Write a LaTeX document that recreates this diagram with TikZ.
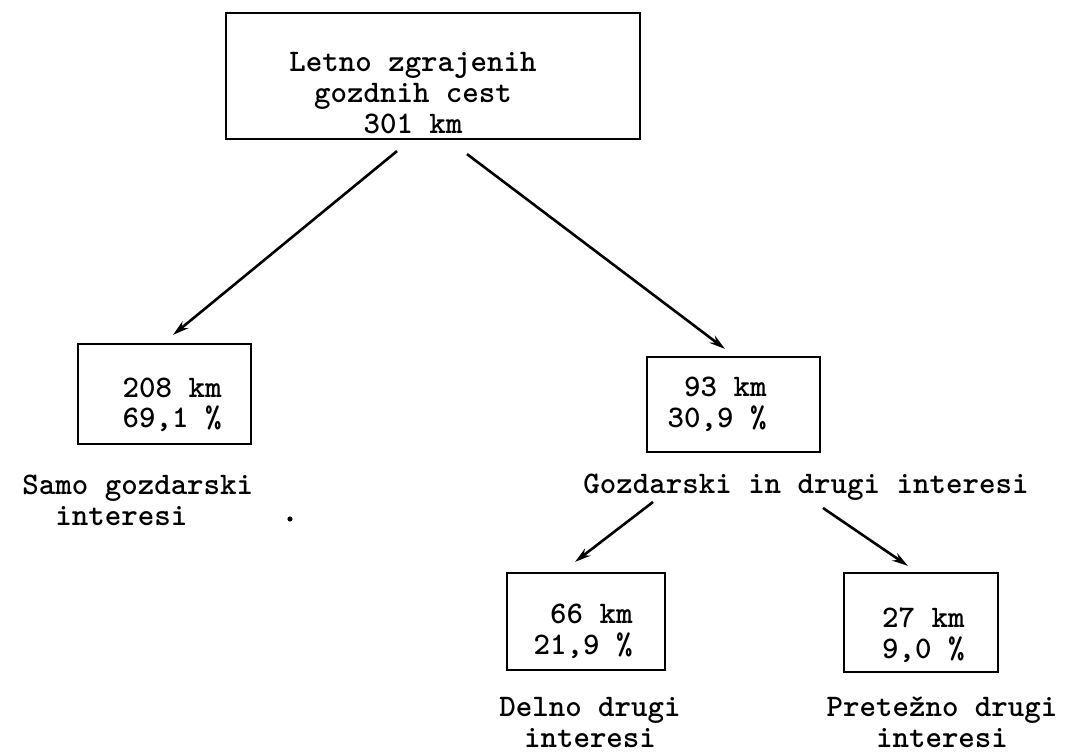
\documentclass[tikz,border=0pt]{standalone}
\usepackage{tikz}
\usetikzlibrary{calc}
\usetikzlibrary{arrows.meta}

\tikzset{
  kmbox/.style={draw, line width=1.1pt, inner sep=0pt},
  typed/.style={inner sep=0pt},
  arr/.style={line width=1.3pt, -{Stealth[length=8pt,width=4.5pt]}}
}

\begin{document}
\begin{tikzpicture}[x=0.5pt,y=-0.5pt]
        \useasboundingbox (0,0) rectangle (1066,754);
        {\fontsize{15.7}{15.5}\selectfont\ttfamily\bfseries

        % Box of all roads built in a year
        \node [kmbox, minimum width=207pt, minimum height=63pt] (top) at (433,76) {};%
        \node [typed, align=center, anchor=base] (toptext) at (413,134) {Letno zgrajenih\\gozdnih cest\\301 km};%

        % Box 208 km
        \node [kmbox, minimum width=86.5pt, minimum height=50pt] (b208) at (164.5,394) {};%
        \node [typed, align=right, anchor=base east] (t208) at (222,428) {208 km\\69,1 \%};%
        \node [typed, align=left, anchor=base west] (l208) at (22,525) {Samo gozdarski\\\ \ interesi};%
        \fill (290,519) circle [radius=1.3pt];%

        % Box 93 km
        \node [kmbox, minimum width=86.5pt, minimum height=47.5pt] (b93) at (733.5,404.5) {};%
        \node [typed, align=right, anchor=base east] (t93) at (767,427) {93 km\\30,9 \%};%
        \node [typed, anchor=base west] (l93) at (583,493) {Gozdarski in drugi interesi};%

        % Box 66 km
        \node [kmbox, minimum width=79pt, minimum height=48.5pt] (b66) at (586,621.5) {};%
        \node [typed, align=right, anchor=base east] (t66) at (633,654) {66 km\\21,9 \%};%
        \node [typed, align=center, anchor=base] (l66) at (590,747) {Delno drugi\\interesi};%

        % Box 27 km
        \node [kmbox, minimum width=77pt, minimum height=49.5pt] (b27) at (921,622.5) {};%
        \node [typed, align=right, anchor=base east] (t27) at (965,658) {27 km\\9,0 \%};%
        \node [typed, align=center, anchor=base] (l27) at (942,747) {Pretežno drugi\\interesi};%

        % Arrows
        \draw [arr] ($(top.south)+(-36,11)$) -- ($(b208.north)+(8.5,-8)$);%
        \draw [arr] ($(top.south)+(34,14)$) -- ($(b93.north)+(-8.5,-7)$);%
        \draw [arr] ($(l93.base west)+(70,9)$) -- ($(b66.north)+(-11,-10)$);%
        \draw [arr] ($(l93.base west)+(240,15)$) -- ($(b27.north)+(-13,-6)$);%
        }
\end{tikzpicture}
\end{document}
